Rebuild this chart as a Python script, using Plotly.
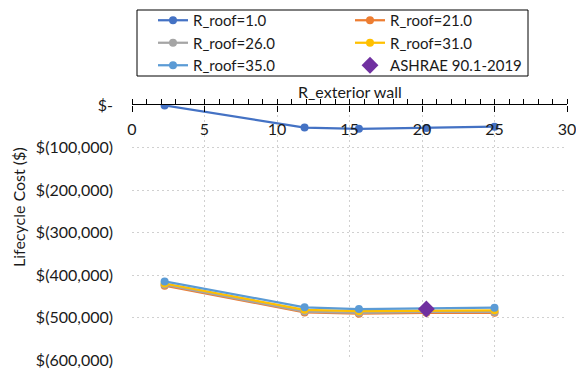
import plotly.graph_objects as go

x_wall = [2.25, 11.9, 15.65, 20.3, 25.0]
series_names = ["R_roof=1.0", "R_roof=21.0", "R_roof=26.0", "R_roof=31.0", "R_roof=35.0"]
r1 = [-1000, -53000, -56000, -54000, -51000]
r21 = [-425000, -488000, -491000, -489000, -489000]
r26 = [-423000, -486000, -489000, -487000, -487000]
r31 = [-420000, -482000, -485000, -484000, -483000]
r35 = [-415000, -476000, -480000, -479000, -477000]
ashrae_x = [20.3]
ashrae_y = [-480000]
x_tickvals = [0, 5, 10, 15, 20, 25, 30]
y_tickvals = [0, -100000, -200000, -300000, -400000, -500000, -600000]
y_ticktext = ["$-", "$(100,000)", "$(200,000)", "$(300,000)",
              "$(400,000)", "$(500,000)", "$(600,000)"]

colors = ["#4472C4", "#ED7D31", "#A5A5A5", "#FFC000", "#5B9BD5"]
FONT = "Lato"
FS = 16
W, H = 576, 372
L, R, T, B = 132, 9, 105, 12
PW, PH = W - L - R, H - T - B


def px_x(p):
    return (p - L) / PW


def px_y(p):
    return (H - B - p) / PH


fig = go.Figure()
for name, ys, c in zip(series_names, [r1, r21, r26, r31, r35], colors):
    fig.add_trace(go.Scatter(x=x_wall, y=ys, name=name, mode="lines+markers",
                             line=dict(color=c, width=2.25),
                             marker=dict(color=c, size=8)))
fig.add_trace(go.Scatter(x=ashrae_x, y=ashrae_y, name="ASHRAE 90.1-2019", mode="markers",
                         marker=dict(symbol="diamond", color="#7030A0", size=13),
                         xaxis="x2"))

grid = dict(showgrid=True, gridcolor="#D0D0D0", griddash="2px,3px", gridwidth=1)

fig.update_layout(
    width=W, height=H,
    margin=dict(l=L, r=R, t=T, b=B, autoexpand=False),
    paper_bgcolor="white", plot_bgcolor="white",
    font=dict(family=FONT, size=FS, color="#1a1a1a"),
    showlegend=True,
    legend=dict(orientation="h", x=px_x(153), y=px_y(4),
                xanchor="left", yanchor="top",
                entrywidth=152, entrywidthmode="pixels",
                borderwidth=0, bgcolor="rgba(0,0,0,0)", font=dict(size=15),
                itemwidth=30, tracegroupgap=0),
    xaxis=dict(range=[0, 30], side="top", tickvals=x_tickvals, automargin=False,
               showline=True, linecolor="black", linewidth=1.25,
               ticks="outside", ticklen=5, tickcolor="black", tickwidth=1.25,
               minor=dict(dtick=1, tick0=0, ticks="outside", ticklen=5, tickcolor="black",
                          tickwidth=1, showgrid=False),
               showticklabels=False, zeroline=False, **grid),
    xaxis2=dict(range=[0, 30], overlaying="x", side="bottom", anchor="free", position=1,
                tickvals=x_tickvals, automargin=False, ticklabeloverflow="allow",
                ticks="outside", ticklen=6, tickcolor="black", tickwidth=1.25,
                showticklabels=True, ticklabelstandoff=4,
                showgrid=False, showline=False, zeroline=False),
    yaxis=dict(range=[-600000, 0], tickvals=y_tickvals, ticktext=y_ticktext, automargin=False,
               zeroline=False, showline=False, ticks="", ticklabelstandoff=18, **grid),
    shapes=[dict(type="rect", xref="paper", yref="paper",
                 x0=px_x(137), x1=px_x(528), y0=px_y(76), y1=px_y(10),
                 line=dict(color="black", width=1), fillcolor="rgba(0,0,0,0)", layer="above")],
    annotations=[dict(text="Lifecycle Cost ($)", textangle=-90,
                      x=px_x(18), y=px_y(207),
                      xref="paper", yref="paper", showarrow=False,
                      font=dict(size=FS), xanchor="center", yanchor="middle"),
                 dict(text="R_exterior wall", x=0.5, y=px_y(92),
                      xref="paper", yref="paper", showarrow=False,
                      font=dict(size=FS), xanchor="center", yanchor="middle")],
)
fig.write_html("out.html")
